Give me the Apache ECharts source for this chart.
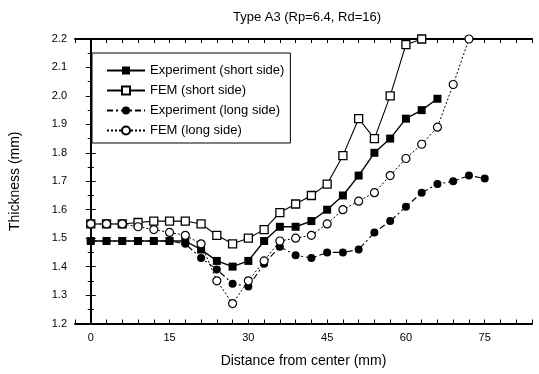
<!DOCTYPE html>
<html>
<head>
<meta charset="utf-8">
<script src="https://cdn.jsdelivr.net/npm/echarts@6/dist/echarts.min.js"></script>
<style>html,body{margin:0;padding:0;background:#fff}#c{width:539px;height:374px}</style>
</head>
<body>
<div id="c"></div>
<script>
const xExpShort = [0,3,6,9,12,15,18,21,24,27,30,33,36,39,42,45,48,51,54,57,60,63,66];
const expShort  = [1.49,1.49,1.49,1.49,1.49,1.49,1.49,1.46,1.42,1.40,1.42,1.49,1.54,1.54,1.56,1.60,1.65,1.72,1.80,1.85,1.92,1.95,1.99];
const xFemShort = [0,3,6,9,12,15,18,21,24,27,30,33,36,39,42,45,48,51,54,57,60,63];
const femShort  = [1.55,1.55,1.55,1.555,1.56,1.56,1.56,1.55,1.51,1.48,1.50,1.53,1.59,1.62,1.65,1.69,1.79,1.92,1.85,2.00,2.18,2.20];
const xExpLong  = [0,3,6,9,12,15,18,21,24,27,30,33,36,39,42,45,48,51,54,57,60,63,66,69,72,75];
const expLong   = [1.49,1.49,1.49,1.49,1.49,1.49,1.48,1.43,1.39,1.34,1.33,1.41,1.47,1.44,1.43,1.45,1.45,1.46,1.52,1.56,1.61,1.66,1.69,1.70,1.72,1.71];
const xFemLong  = [0,3,6,9,12,15,18,21,24,27,30,33,36,39,42,45,48,51,54,57,60,63,66,69,72];
const femLong   = [1.55,1.55,1.55,1.54,1.53,1.52,1.51,1.48,1.35,1.27,1.35,1.42,1.49,1.50,1.51,1.55,1.60,1.63,1.66,1.72,1.78,1.83,1.89,2.04,2.20];
const seriesNames = ['Experiment (short side)','FEM (short side)','Experiment (long side)','FEM (long side)'];
const xTickLabels = [0,15,30,45,60,75];
const titleText = 'Type A3 (Rp=6.4, Rd=16)';

const pair = (xs, ys) => xs.map((x,i)=>[x, ys[i]]);
const FONT = '"Liberation Sans", Arial, sans-serif';
const chart = echarts.init(document.getElementById('c'));
const xCommon = {
  type:'value', min:-3, max:84, interval:3,
  splitLine:{show:false},
  axisLine:{show:true, lineStyle:{color:'#000', width:2}},
  axisTick:{show:true, inside:true, length:4, lineStyle:{color:'#000'}},
};
const yCommon = {
  type:'value', min:1.2, max:2.2, interval:0.1,
  splitLine:{show:false},
  axisLine:{show:true, lineStyle:{color:'#000', width:2}},
  axisTick:{show:true, inside:true, length:5, lineStyle:{color:'#000'}},
  minorTick:{show:true, splitNumber:2, length:3, lineStyle:{color:'#000'}},
};
chart.setOption({
  animation:false,
  backgroundColor:'#fff',
  title:{text:titleText, left:302, top:6, textAlign:'center',
    textStyle:{fontFamily:FONT, fontSize:13, fontWeight:'normal', color:'#000'}},
  grid:{left:73, right:7, top:39, bottom:50.5, containLabel:false},
  legend:{
    orient:'vertical', left:92, top:53, width:235,
    padding:[11,6,6,14], itemGap:7, itemWidth:38, itemHeight:10,
    borderColor:'#000', borderWidth:1, backgroundColor:'#fff',
    textStyle:{fontFamily:FONT, fontSize:13, color:'#000', padding:[0,0,0,0]},
    data:seriesNames
  },
  xAxis:[
    Object.assign({}, xCommon, {position:'bottom',
      name:'Distance from center (mm)', nameLocation:'middle', nameGap:31,
      nameTextStyle:{fontFamily:FONT, fontSize:14, color:'#000'},
      axisLabel:{fontFamily:FONT, fontSize:11, color:'#000', margin:9,
        formatter:v => xTickLabels.indexOf(v) >= 0 ? String(v) : ''}}),
    Object.assign({}, xCommon, {position:'top', axisLabel:{show:false}})
  ],
  yAxis:[
    Object.assign({}, yCommon, {position:'left',
      name:'Thickness (mm)', nameLocation:'middle', nameGap:53, nameRotate:90,
      nameTextStyle:{fontFamily:FONT, fontSize:14, color:'#000'},
      axisLabel:{fontFamily:FONT, fontSize:11, color:'#000', margin:8,
        formatter:v => v.toFixed(1)}}),
    Object.assign({}, yCommon, {position:'right', axisLabel:{show:false}})
  ],
  series:[
    {name:seriesNames[0], type:'line', data:pair(xExpShort, expShort),
      symbol:'rect', symbolSize:8, itemStyle:{color:'#000'},
      lineStyle:{color:'#000', width:1.4, type:'solid'}, z:4},
    {name:seriesNames[1], type:'line', data:pair(xFemShort, femShort),
      symbol:'rect', symbolSize:8, itemStyle:{color:'#fff', borderColor:'#000', borderWidth:1.3},
      lineStyle:{color:'#000', width:1.1, type:'solid'}, z:3},
    {name:seriesNames[2], type:'line', data:pair(xExpLong, expLong),
      symbol:'circle', symbolSize:8, itemStyle:{color:'#000'},
      lineStyle:{color:'#000', width:1.1, type:[6,3,2,3]}, z:4},
    {name:seriesNames[3], type:'line', data:pair(xFemLong, femLong),
      symbol:'circle', symbolSize:8, itemStyle:{color:'#fff', borderColor:'#000', borderWidth:1.2},
      lineStyle:{color:'#000', width:1, type:[2,2]}, z:5}
  ]
});
</script>
</body>
</html>
